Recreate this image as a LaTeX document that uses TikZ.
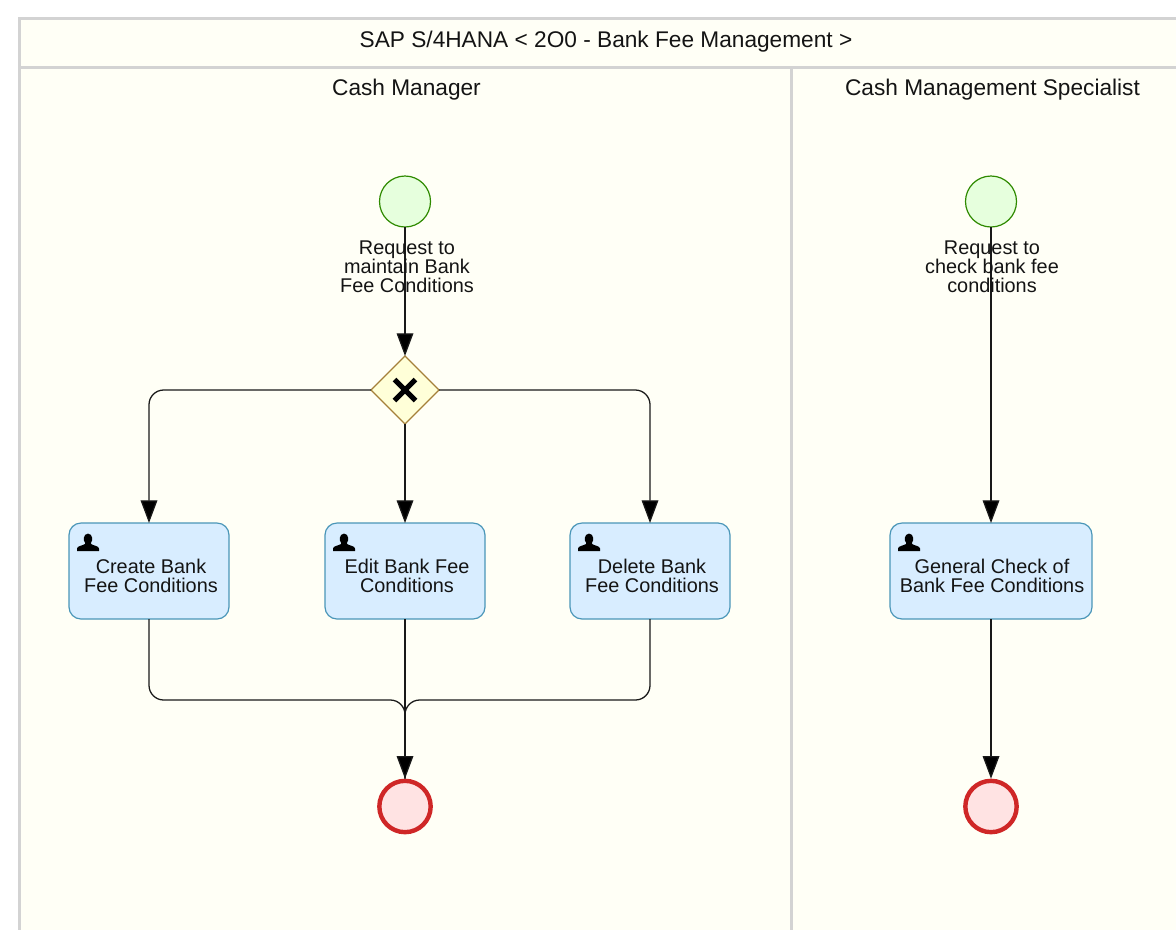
\documentclass[tikz,border=0pt]{standalone}
\usepackage{fontspec}
\setmainfont{Liberation Sans}
\usetikzlibrary{arrows.meta,shapes.geometric,calc}
\definecolor{lanefill}{HTML}{FFFFF6}
\definecolor{laneline}{HTML}{D3D3D3}
\definecolor{startfill}{HTML}{E6FFDD}
\definecolor{startline}{HTML}{2F8A00}
\definecolor{endfill}{HTML}{FFE3E3}
\definecolor{endline}{HTML}{CF2727}
\definecolor{taskfill}{HTML}{D8EDFF}
\definecolor{taskline}{HTML}{4A96B8}
\definecolor{gwfill}{HTML}{FFFFD8}
\definecolor{gwline}{HTML}{A5803A}
\tikzset{
 lane/.style={draw=laneline,fill=lanefill,line width=2.25pt},
 title/.style={font=\fontsize{17}{18}\selectfont,text=black!92,inner sep=0pt},
 lbl/.style={font=\fontsize{14.9}{14.25}\selectfont,text=black!92,align=center,inner sep=0pt},
 startev/.style={circle,draw=startline,fill=startfill,line width=0.9pt,minimum size=38.25pt,inner sep=0pt,outer sep=0pt},
 endev/.style={circle,draw=endline,fill=endfill,line width=3.3pt,minimum size=38.5pt,inner sep=0pt,outer sep=1.6pt},
 taskbox/.style={rectangle,rounded corners=9pt,draw=taskline,fill=taskfill,line width=0.9pt,minimum height=72pt,inner sep=0pt,outer sep=0pt},
 gate/.style={diamond,draw=gwline,fill=gwfill,line width=0.9pt,minimum width=51pt,minimum height=51pt,inner sep=0pt,outer sep=0pt},
 flow/.style={draw=black!90,line width=0.95pt,rounded corners=11pt,-{Triangle[length=17pt,width=12.5pt,fill=black]}},
 plainflow/.style={draw=black!90,line width=0.95pt,rounded corners=11pt},
 person/.pic={
  \fill[black] (-11,9) -- (-11,6.5) .. controls (-11,4) and (-5,3.5) .. (-3,2) -- (-3,0.5) .. controls (-5,-1) and (-5,-8) .. (0,-8.5) .. controls (5,-8) and (5,-1) .. (3,0.5) -- (3,2) .. controls (5,3.5) and (11,4) .. (11,6.5) -- (11,9) -- cycle;
 }
}
\begin{document}
\begin{tikzpicture}[x=0.75pt,y=-0.75pt]
\useasboundingbox (0,0) rectangle (1176,929);
\begin{scope}
\clip (0,0) rectangle (1176,929);
\fill[white] (0,0) rectangle (1176,929);
\draw[lane] (19,18) rectangle (1200,67);
\draw[lane] (19,67) rectangle (791,960);
\draw[lane] (791,67) rectangle (1200,960);
\end{scope}
\node[title] (pool) at (606,42) {SAP S/4HANA < 2O0 - Bank Fee Management >};
\node[title] (lane1) at (406.5,90) {Cash Manager};
\node[title] (lane2) at (992.5,90) {Cash Management Specialist};

\node[startev] (s1) at (405,201.5) {};
\node[startev] (s2) at (991,201.5) {};
\node[gate] (g) at (405,390) {};
\node[taskbox,minimum width=120pt] (t1) at (149,571) {};
\node[taskbox,minimum width=120pt] (t2) at (405,571) {};
\node[taskbox,minimum width=120pt] (t3) at (650,571) {};
\node[taskbox,minimum width=151.5pt] (t4) at (991,571) {};
\node[endev] (e1) at (405,806.5) {};
\node[endev] (e2) at (991,806.5) {};
\coordinate (m1) at (405,700);

\draw[line width=3.9pt,black,line cap=butt] ($(g)+(-10.5,-10.5)$) -- ($(g)+(10.5,10.5)$);
\draw[line width=3.9pt,black,line cap=butt] ($(g)+(-10.5,10.5)$) -- ($(g)+(10.5,-10.5)$);

\draw[flow] (s1) -- (g);
\draw[flow] (g.west) -| (t1.north);
\draw[flow] (g.south) -- (t2.north);
\draw[flow] (g.east) -| (t3.north);
\draw[plainflow] (t1.south) |- (m1) -- (e1.north);
\draw[plainflow] (t3.south) |- (m1) -- (e1.north);
\draw[flow] (t2.south) -- (e1.north);
\draw[flow] (s2) -- (t4.north);
\draw[flow] (t4.south) -- (e2.north);

\node[lbl] (l1) at (407,267) {Request to\\maintain Bank\\Fee Conditions};
\node[lbl] (l2) at (992,267) {Request to\\check bank fee\\conditions};
\node[lbl] (x1) at (151,576) {Create Bank\\Fee Conditions};
\node[lbl] (x2) at (407,576) {Edit Bank Fee\\Conditions};
\node[lbl] (x3) at (652,576) {Delete Bank\\Fee Conditions};
\node[lbl] (x4) at (992,576) {General Check of\\Bank Fee Conditions};

\pic at (88,542) {person};
\pic at (344,542) {person};
\pic at (589,542) {person};
\pic at (909,542) {person};
\end{tikzpicture}
\end{document}
